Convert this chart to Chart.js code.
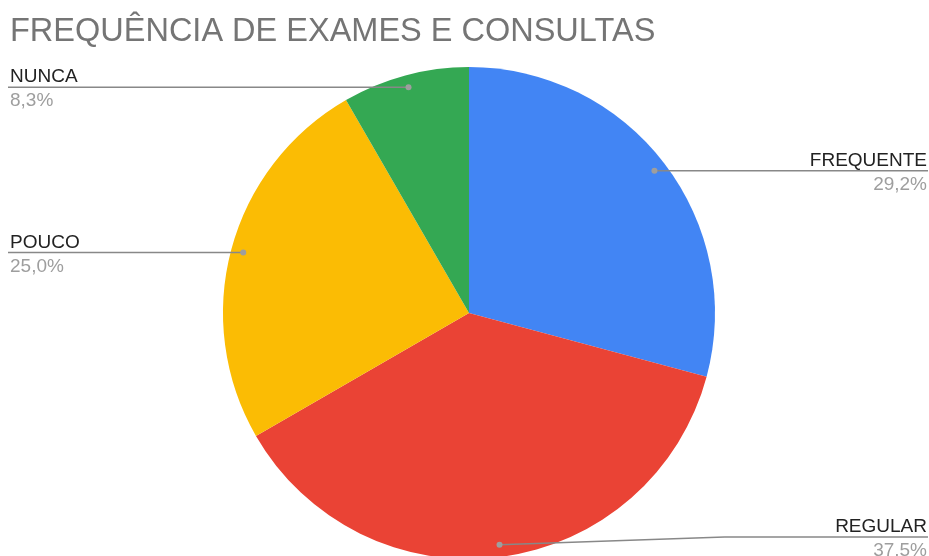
<!DOCTYPE html>
<html>
<head>
<meta charset="utf-8">
<script src="https://cdn.jsdelivr.net/npm/chart.js@4"></script>
<style>
  html, body { margin: 0; padding: 0; background: #fff; overflow: hidden; }
  #wrap { width: 929px; height: 562px; position: relative; }
</style>
</head>
<body>
<div id="wrap"><canvas id="pieChart"></canvas></div>
<script>
const title = "FREQUÊNCIA DE EXAMES E CONSULTAS";
const categories = ["FREQUENTE", "REGULAR", "POUCO", "NUNCA"];
const counts = [7, 9, 6, 2];
const sliceColors = ["#4285F4", "#EA4335", "#FBBC04", "#34A853"];

const total = counts.reduce((a, b) => a + b, 0);
const FONT = "Arial, 'Liberation Sans', sans-serif";

function pctText(v) {
    return (v / total * 100).toFixed(1).replace(".", ",") + "%";
}

// title + leader lines with name/percentage on each side
const labelPlugin = {
    id: "sideLabels",
    afterDraw(chart) {
        const ctx = chart.ctx;
        const W = chart.width;
        const visibleH = window.innerHeight;

        ctx.save();
        ctx.fillStyle = "#757575";
        ctx.font = "32.5px " + FONT;
        ctx.textAlign = "left";
        ctx.textBaseline = "alphabetic";
        ctx.fillText(title, 10, 41);

        const arcs = chart.getDatasetMeta(0).data;
        arcs.forEach((arc, i) => {
            const p = arc.getProps(["x", "y", "startAngle", "endAngle", "outerRadius"], true);
            const mid = (p.startAngle + p.endAngle) / 2;
            const r = p.outerRadius * 0.95;
            const dx = p.x + Math.cos(mid) * r;
            const dy = p.y + Math.sin(mid) * r;
            const right = Math.cos(mid) > 0;
            const lineY = Math.min(dy, visibleH - 19);
            const elbowX = dy === lineY ? dx : dx + (right ? 225 : -225);

            ctx.strokeStyle = "#888888";
            ctx.lineWidth = 1.5;
            ctx.beginPath();
            ctx.moveTo(dx, dy);
            ctx.lineTo(elbowX, lineY);
            ctx.lineTo(right ? W - 1 : 8, lineY);
            ctx.stroke();

            ctx.fillStyle = "#9e9e9e";
            ctx.beginPath();
            ctx.arc(dx, dy, 3, 0, Math.PI * 2);
            ctx.fill();

            const tx = right ? W - 2 : 10;
            ctx.textAlign = right ? "right" : "left";
            ctx.font = "19px " + FONT;
            ctx.fillStyle = "#222222";
            ctx.fillText(categories[i], tx, lineY - 5);
            ctx.fillStyle = "#9e9e9e";
            ctx.fillText(pctText(counts[i]), tx, lineY + 19);
        });
        ctx.restore();
    }
};

new Chart(document.getElementById("pieChart"), {
    type: "pie",
    data: {
        labels: categories,
        datasets: [{
            data: counts,
            backgroundColor: sliceColors,
            borderWidth: 0
        }]
    },
    options: {
        responsive: true,
        maintainAspectRatio: false,
        animation: false,
        layout: {
            padding: { top: 67, bottom: 3, left: 223, right: 214 }
        },
        plugins: {
            legend: { display: false },
            tooltip: { enabled: false }
        }
    },
    plugins: [labelPlugin]
});
</script>
</body>
</html>
